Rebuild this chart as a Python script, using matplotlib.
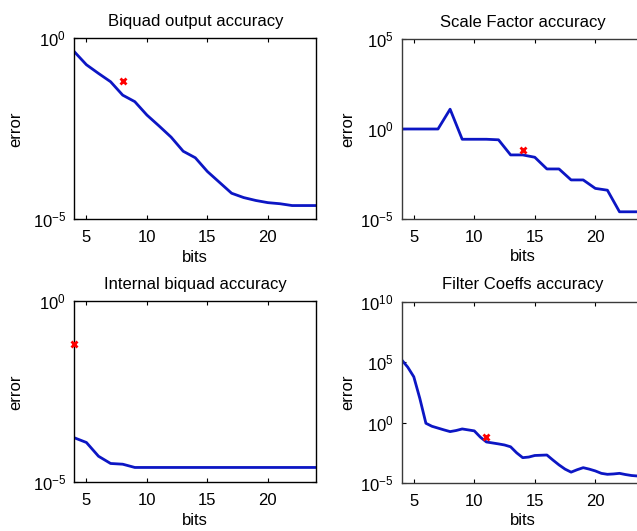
import numpy as np
import matplotlib
matplotlib.use('Agg')
import matplotlib.pyplot as plt
from matplotlib.ticker import FixedLocator, FuncFormatter, NullLocator

plt.rcParams['font.family'] = ['Liberation Sans', 'DejaVu Sans']
plt.rcParams['mathtext.default'] = 'regular'
plt.rcParams['mathtext.fontset'] = 'custom'
plt.rcParams['mathtext.rm'] = 'Liberation Sans'

# data: bits vs log10(error)
bits = np.arange(4, 25)
biquad_out = [-0.37, -0.73, -0.97, -1.2, -1.57, -1.75, -2.12, -2.42, -2.73, -3.12,
              -3.30, -3.68, -3.98, -4.28, -4.40, -4.48, -4.54, -4.57, -4.62, -4.62, -4.62]
scale_factor = [0.0, 0.0, 0.0, 0.0, 1.1, -0.57, -0.57, -0.57, -0.6, -1.44,
                -1.44, -1.57, -2.22, -2.22, -2.83, -2.83, -3.3, -3.4, -4.6, -4.6, -4.6]
internal_biquad = [-3.77, -3.9, -4.28, -4.48, -4.5, -4.59, -4.59, -4.59, -4.59, -4.59,
                   -4.59, -4.59, -4.59, -4.59, -4.59, -4.59, -4.59, -4.59, -4.59, -4.59, -4.59]
bits_fine = np.arange(4, 24.5, 0.5)
filter_coeffs = [5.2, 4.6, 3.8, 2.0, -0.05, -0.3, -0.45, -0.6, -0.74, -0.65,
                 -0.52, -0.6, -0.68, -1.2, -1.6, -1.68, -1.76, -1.85, -2.0, -2.5,
                 -2.9, -2.85, -2.72, -2.7, -2.68, -3.1, -3.5, -3.85, -4.1, -3.9,
                 -3.73, -3.85, -4.0, -4.2, -4.28, -4.25, -4.2, -4.3, -4.38, -4.42, -4.45]

# red markers (bits, log10 error)
mark_biquad_out = (8, -1.18)
mark_scale = (14, -1.17)
mark_internal = (4, -1.19)
mark_filter = (11, -1.16)

titles = ['Biquad output accuracy', 'Scale Factor accuracy',
          'Internal biquad accuracy', 'Filter Coeffs accuracy']
ylims = [(-5, 0), (-5, 5), (-5, 0), (-5, 10)]
yticks = [[-5, 0], [-5, 0, 5], [-5, 0], [-5, 0, 5, 10]]

fig = plt.figure(figsize=(6.37, 5.31), dpi=100)
W, H = 637.0, 531.0
boxes = [(74.3, 38.3, 242, 181), (401.7, 39, 242, 180),
         (74.3, 301.3, 242, 181), (401.7, 302, 242, 181)]
axes = []
for (x0, y0, w, h) in boxes:
    axes.append(fig.add_axes([x0 / W, 1 - (y0 + h) / H, w / W, h / H]))

xs = [bits, bits, bits, bits_fine]
ys = [biquad_out, scale_factor, internal_biquad, filter_coeffs]
marks = [mark_biquad_out, mark_scale, mark_internal, mark_filter]
blue = '#0c16c4'

for i, ax in enumerate(axes):
    ax.plot(xs[i], 10.0 ** np.array(ys[i]), color=blue, lw=2)
    ax.plot([marks[i][0]], [10.0 ** marks[i][1]], 'x', color='red',
            ms=4, mew=2, clip_on=False, zorder=5)
    ax.set_yscale('log')
    ax.set_xlim(4, 24)
    ax.set_ylim(10.0 ** ylims[i][0], 10.0 ** ylims[i][1])
    ax.yaxis.set_major_locator(FixedLocator([10.0 ** t for t in yticks[i]]))
    ax.yaxis.set_major_formatter(FuncFormatter(
        lambda v, p: r'$10^{%d}$' % int(round(np.log10(v)))))
    ax.yaxis.set_minor_locator(NullLocator())
    ax.set_xticks([5, 10, 15, 20])
    ax.tick_params(direction='in', top=True, right=True, length=3,
                   labelsize=12, width=0.8)
    ax.tick_params(axis='x', pad=8)
    ax.tick_params(axis='y', pad=6)
    for s in ax.spines.values():
        s.set_linewidth(1.0)
        s.set_color('black' if i % 2 == 0 else '#3a3a3a')
    ax.set_title(titles[i], fontsize=12, pad=9)
    ax.set_xlabel('bits', fontsize=12, labelpad=3)
    ax.set_ylabel('error', fontsize=12)
    ax.yaxis.set_label_coords(-0.21 if i % 2 == 0 else -0.19, 0.5)

fig.savefig('out.png', dpi=100)
